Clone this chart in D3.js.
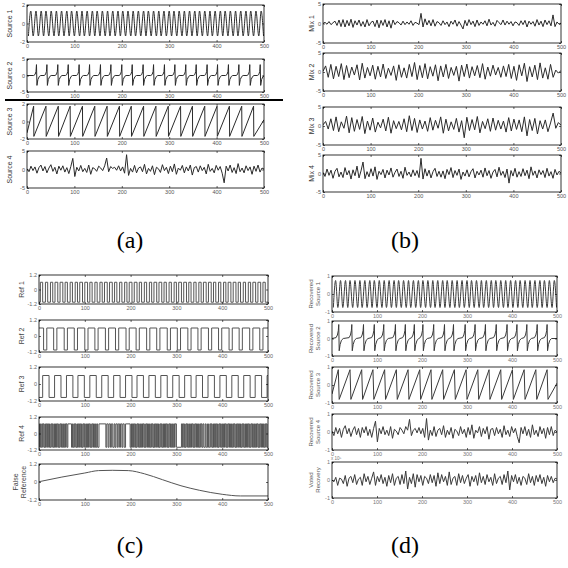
<!DOCTYPE html>
<html>
<head>
<meta charset="utf-8">
<script src="https://cdn.jsdelivr.net/npm/d3@7"></script>
<style>
body { margin: 0; background: #fff; }
svg { display: block; }
</style>
</head>
<body>
<svg id="chart" width="568" height="568"></svg>
<script>
const xTicks = [0, 100, 200, 300, 400, 500]
const N = 500

// (a) sources
const source1Crests = [8,19,30,40,51,62,73,84,94,105,116,127,138,148,159,170,181,192,202,213,224,235,246,256,267,278,289,300,310,321,332,343,354,364,375,386,397,408,418,429,440,451,462,472,483,494]
const source1Troughs = [3,13,24,35,46,57,67,78,89,100,111,121,132,143,154,165,175,186,197,208,219,229,240,251,262,273,283,294,305,316,327,337,348,359,370,381,391,402,413,424,435,445,456,467,478,489,499]
const source2Spikes = [20,42,65,87,110,132,155,177,200,222,245,267,290,312,335,357,380,402,425,447,470,492]
const spikeShape = [[-6,0],[-3,0.3],[-1,1.2],[0,3.3],[1,-3.0],[3,-1.2],[6,-0.3],[9,0]]
const source3Drops = [14,40,66,91,117,143,169,195,220,246,272,298,324,349,375,401,427,453,478]
const source4 = [
  0.2,-0.6,0.9,-0.3,0.7,-1.0,0.5,1.2,-0.4,0.8,
  -0.9,0.4,1.3,-0.5,0.6,-1.2,0.9,-0.2,1.0,-0.7,
  0.5,-1.1,0.8,3.0,-1.9,0.6,-0.4,1.1,-0.6,0.3,
  -0.8,1.2,-1.3,0.5,0.2,-0.5,0.9,0.4,-0.3,1.0,
  3.1,-0.6,0.8,0.3,0.6,-0.2,1.0,-0.4,0.7,-1.0,
  4.0,-1.6,0.3,-0.7,1.1,-0.9,0.4,0.7,-0.6,1.4,
  -1.2,0.3,-0.5,1.0,-1.4,0.6,0.2,-0.8,1.3,-0.3,
  0.6,-1.1,0.9,-0.6,1.5,-1.3,0.4,-0.2,1.1,-0.9,
  0.7,-0.4,1.2,-1.5,0.5,0.8,-0.7,1.0,-0.3,0.6,
  -1.2,1.4,-0.5,0.3,-0.9,1.1,-0.2,0.8,-1.0,-3.6,
  0.9,-0.4,1.2,-0.8,0.5,-1.1,1.6,-0.6,0.4,-0.9,
  1.0,-0.3,0.7,-1.3,0.9,-0.5,1.2,-0.7,0.4,0.1]

// (b) mixtures
const mix1 = [
  0.0,0.3,-0.2,0.5,-0.3,0.2,0.6,-0.5,0.9,-0.8,
  1.0,-0.9,0.8,-0.6,1.1,-1.0,0.7,-0.4,0.9,-0.7,
  0.5,-0.9,1.0,-0.6,0.3,0.6,-0.8,0.9,-1.1,0.8,
  -0.5,1.0,-0.9,0.7,-1.2,0.9,-0.3,0.5,0.2,-0.4,
  0.6,-0.3,0.4,-0.2,0.7,-0.5,0.3,0.1,-0.3,2.6,
  -0.9,1.2,-0.4,0.8,-0.6,1.0,-0.7,0.5,0.2,-0.5,
  0.7,-0.3,0.4,-0.8,0.6,-0.2,0.9,-0.7,0.5,-0.4,
  -1.4,0.8,-0.6,1.0,-0.3,0.6,-0.8,0.9,-0.5,0.4,
  -0.2,0.7,-0.6,1.1,-0.4,0.3,-0.7,0.8,0.2,-0.3,
  0.9,-0.4,0.6,-0.2,0.5,-0.6,0.4,0.2,-0.5,0.7,
  -0.3,0.8,-0.9,0.6,-0.2,0.5,-0.7,1.0,-0.4,0.6,
  -0.8,0.9,-0.3,0.7,-0.6,2.2,-0.8,0.4,-0.2,0.1]
const mix2 = [
  0.2,1.6,-1.4,2.0,-1.8,1.5,-1.2,2.2,-2.0,1.7,
  -1.5,1.3,-0.8,1.9,-2.1,2.3,-1.6,1.2,-1.0,1.8,
  -1.9,1.5,-1.3,2.1,-1.7,1.0,-0.9,1.6,-2.2,1.9,
  -1.4,1.1,-1.6,2.0,-1.2,2.5,-2.0,1.7,-1.5,2.2,
  -1.8,1.4,-1.1,1.9,-2.3,1.6,-1.3,2.0,-1.7,1.2,
  -0.9,1.5,-2.4,1.8,-1.2,2.1,-1.6,1.4,-1.0,1.7,
  -1.5,2.2,-1.9,1.3,-1.1,1.8,-0.8,1.2,-1.4,1.6,
  -1.2,2.0,-1.7,1.5,-2.2,1.9,-1.0,2.3,-2.5,1.4,
  -1.3,1.8,-2.0,2.4,-1.6,1.1,-1.9,2.0,-1.4,0.5,-0.3,0.4]
const mix3 = [
  0.3,1.2,-0.8,1.9,-1.2,2.4,-1.5,1.1,-0.6,2.6,
  -1.8,2.2,-1.4,1.7,-0.9,2.5,-2.0,1.3,-1.1,2.1,
  -1.6,1.0,-0.5,1.8,-1.3,2.3,-1.9,1.4,-0.7,1.2,
  -1.0,1.9,-1.5,2.7,-1.2,2.0,-1.7,1.6,-0.8,1.3,
  -1.4,2.2,-1.1,1.5,-0.6,2.4,-1.9,1.8,-1.3,1.1,
  -0.9,2.0,-1.6,1.4,-3.1,2.3,-1.2,1.7,-1.0,2.5,
  -1.8,1.2,-0.7,1.9,-1.4,2.1,-1.1,1.5,-0.8,1.3,
  -1.6,2.2,-1.3,1.8,-0.9,1.6,-1.5,2.4,-2.6,1.7,
  -1.2,2.0,-2.1,1.4,-0.8,1.6,-1.5,0.8,3.4,-0.6,0.9,0.2]
const mix4 = [
  0.3,-0.8,1.2,-0.5,0.9,-1.3,0.6,1.4,-0.9,0.4,
  -1.1,1.6,-0.4,0.8,-1.5,1.0,-0.6,2.0,-1.2,0.7,
  3.1,-1.4,0.5,-0.9,1.3,-0.7,1.8,-1.6,0.6,-0.3,
  1.1,-1.2,0.9,-0.4,1.5,-1.0,0.3,1.2,-0.8,0.6,
  -1.3,1.7,-0.5,0.4,-0.9,1.0,-0.6,0.8,-1.1,4.1,
  -1.5,1.3,-0.7,0.9,-1.2,0.5,1.4,-0.8,0.6,-1.0,
  0.7,-1.4,1.1,-0.3,1.6,-1.1,0.8,-0.5,1.2,-1.6,
  0.4,-0.7,1.0,-0.9,0.5,1.3,-1.2,0.6,-0.4,0.9,
  -1.0,1.5,-0.6,0.8,-1.3,0.4,1.1,-0.9,1.7,-0.5,
  0.6,-1.1,1.2,-2.6,0.8,-0.7,1.4,-1.0,0.5,-0.8,
  1.3,-0.6,0.9,-1.4,1.8,-0.5,0.7,-1.2,1.0,-0.3,
  0.8,-1.1,1.4,-0.7,0.5,-1.3,1.1,-0.4,0.6,0.1]

// (c) references, switching times
const ref1Edges = [3,8,14,19,25,30,35,41,46,52,57,62,68,73,79,84,89,95,100,106,111,116,122,127,133,138,143,149,154,160,165,170,176,181,187,192,197,203,208,214,219,224,230,235,241,246,251,257,262,268,273,278,284,289,295,300,305,311,316,322,327,332,338,343,349,354,359,365,370,376,381,386,392,397,403,408,413,419,424,430,435,440,446,451,457,462,467,473,478,484,489,494]
const ref2Edges = [10,17,32,39,55,62,77,84,100,107,122,129,145,152,167,174,190,197,212,219,235,242,257,264,280,287,302,309,325,332,347,354,370,377,392,399,415,422,437,444,460,467,482,489]
const ref3Edges = [8,22,34,48,60,74,85,99,111,125,137,151,163,177,189,203,214,228,240,254,266,280,292,306,318,332,343,357,369,383,395,409,421,435,447,461,472,486,498]
const ref4Edges = [1,3,4,6,8,9,11,13,14,16,18,19,21,23,24,26,28,29,31,33,34,36,38,39,41,43,44,46,48,49,51,53,54,56,58,59,61,63,
  71,73,74,76,78,79,81,83,84,86,88,89,91,93,94,96,98,99,101,103,104,106,108,109,111,113,114,116,118,119,121,123,124,126,128,131,
  146,148,151,153,156,158,161,164,166,168,171,173,176,178,181,183,186,189,
  199,201,202,204,206,207,209,211,212,214,216,217,219,221,222,224,226,227,229,231,232,234,236,237,239,241,242,244,246,247,249,251,252,254,256,257,259,261,262,264,266,267,269,271,272,274,276,277,279,281,282,284,286,287,289,291,292,294,296,297,300,
  311,313,314,316,318,319,321,323,324,326,328,329,331,333,334,336,338,339,341,343,344,346,348,349,351,353,354,356,358,360,363,365,368,370,
  373,375,376,378,380,381,383,385,386,388,390,391,393,395,396,398,400,401,403,405,406,408,410,411,413,415,416,418,420,421,423,425,426,428,430,431,433,435,436,438,440,441,443,445,446,448,450,451,453,455,456,458,460,461,463,465,466,468,470,471,473,475,476,478,480,481,483,485,486,488,490,491,493,495,496,498]
const falseRef = [[0,0.02],[50,0.33],[100,0.6],[130,0.76],[160,0.78],[195,0.76],[230,0.55],[270,0.15],[310,-0.25],[350,-0.55],[400,-0.82],[440,-0.93],[500,-0.93]]

// (d) recovered
const rec2Spikes = [15,44,70,94,115,141,163,183,202,226,250,270,296,318,341,365,389,411,433,456,478]
const recSpikeShape = [[-6,0.05],[-3,0.2],[-1,0.45],[0,0.8],[1,-0.7],[3,-0.35],[6,-0.1],[10,0]]
const rec4 = [
  0.05,-0.2,0.25,-0.1,0.2,-0.3,0.15,0.35,-0.1,0.2,
  -0.25,0.1,0.3,-0.15,0.2,-0.3,0.25,-0.05,0.3,-0.2,
  0.15,-0.3,0.2,0.6,-0.55,0.2,-0.1,0.3,-0.15,0.1,
  -0.2,0.3,-0.35,0.15,0.05,-0.15,0.25,0.1,-0.1,0.3,
  0.1,0.7,-0.2,0.1,0.2,-0.05,0.25,-0.1,0.2,-0.3,
  0.75,-0.45,0.1,-0.2,0.3,-0.25,0.1,0.2,-0.15,0.35,
  -0.3,0.1,-0.15,0.25,-0.35,0.15,0.05,-0.2,0.3,-0.1,
  0.15,-0.3,0.25,-0.15,0.4,-0.35,0.1,-0.05,0.3,-0.25,
  0.2,-0.1,0.3,-0.4,0.15,0.2,-0.2,0.25,-0.1,0.15,
  -0.3,0.35,-0.15,0.1,-0.25,0.3,-0.05,0.2,-0.25,-0.6,
  0.25,-0.1,0.3,-0.2,0.15,-0.3,0.4,-0.15,0.1,-0.25,
  0.3,-0.1,0.2,-0.35,0.25,-0.15,0.3,-0.2,0.1,0.0]
const voted = [
  0.0,-0.1,0.15,-0.3,0.1,0.05,-0.2,0.25,-0.35,0.1,
  0.2,-0.15,0.3,-0.25,0.05,0.15,-0.3,0.35,-0.1,0.2,
  -0.25,0.1,0.45,-0.3,0.2,-0.1,0.3,-0.2,0.15,-0.35,
  0.25,-0.15,0.35,-0.3,0.1,0.2,-0.25,0.3,-0.2,0.5,
  -0.5,0.15,-0.2,0.35,-0.4,0.3,-0.1,0.25,-0.3,0.2,
  0.1,-0.2,0.3,-0.15,0.25,-0.35,0.4,-0.2,0.3,-0.1,
  0.2,-0.3,0.45,-0.25,0.1,0.2,-0.3,0.35,-0.15,0.25,
  -0.2,0.1,0.3,-0.35,0.2,-0.1,0.25,-0.3,0.4,-0.15,
  0.2,-0.25,0.3,-0.1,0.15,-0.3,0.35,-0.2,0.1,0.2,
  -0.25,0.3,-0.15,0.5,-0.55,0.25,-0.1,0.3,-0.2,0.15,
  -0.3,0.2,0.1,-0.25,0.35,-0.15,0.2,-0.3,0.25,-0.1,
  0.3,-0.2,0.15,-0.35,0.25,-0.1,0.2,-0.15,0.1,0.05]

// ---- turn the lists into line vertices ----
const fromValues = vals => vals.map((v, i) => [i * N / (vals.length - 1), v])

const fromTurns = (crests, troughs, amp) =>
    crests.map(x => [x, amp]).concat(troughs.map(x => [x, -amp])).sort((a, b) => a[0] - b[0])

const fromSpikes = (spikes, shape) => {
    let pts = [[0, 0]]
    spikes.forEach(p => shape.forEach(([dx, v]) => pts.push([p + dx, v])))
    pts.push([N, 0])
    return pts
}

const fromSaw = (drops, hi, lo, fall, start, end) => {
    let pts = [[0, start]]
    drops.forEach(d => { pts.push([d, hi]); pts.push([d + fall, lo]) })
    pts.push([N, end])
    return pts
}

const fromEdges = (edges, startHigh, hi, lo) => {
    let high = startHigh
    let pts = [[0, high ? hi : lo]]
    edges.forEach(e => { high = !high; pts.push([e, high ? hi : lo]) })
    pts.push([N, high ? hi : lo])
    return pts
}

const svg = d3.select('#chart')
const sans = 'Arial, "Liberation Sans", sans-serif'
let clipCount = 0

const drawPlot = (box, plot) => {
    const x = d3.scaleLinear().domain([0, N]).range([box.x0, box.x1])
    const y = d3.scaleLinear().domain(plot.dom).range([box.y1, box.y0])
    const g = svg.append('g')
    const id = 'clip' + (clipCount++)

    g.append('clipPath').attr('id', id)
        .append('rect')
            .attr('x', box.x0).attr('y', box.y0)
            .attr('width', box.x1 - box.x0).attr('height', box.y1 - box.y0)

    g.append('path')
        .datum(plot.pts)
        .attr('clip-path', `url(#${id})`)
        .attr('fill', 'none')
        .attr('stroke', box.color)
        .attr('stroke-width', box.lineWidth)
        .attr('d', d3.line().x(d => x(d[0])).y(d => y(d[1])).curve(plot.curve || d3.curveLinear))

    const styleAxis = (sel, showText) => {
        sel.select('.domain').remove()
        sel.attr('font-family', sans)
        sel.selectAll('line').attr('stroke', '#000').attr('stroke-width', 0.6)
        sel.selectAll('text')
            .attr('font-size', 5.5)
            .attr('fill', box.tickColor)
            .style('display', showText ? null : 'none')
    }

    g.append('g').attr('transform', `translate(0,${box.y1})`)
        .call(d3.axisBottom(x).tickValues(xTicks).tickSize(-2).tickPadding(2))
        .call(s => styleAxis(s, true))
    g.append('g').attr('transform', `translate(0,${box.y0})`)
        .call(d3.axisTop(x).tickValues(xTicks).tickSize(-2))
        .call(s => styleAxis(s, false))
    g.append('g').attr('transform', `translate(${box.x0},0)`)
        .call(d3.axisLeft(y).tickValues(plot.ticks).tickSize(-2).tickPadding(2).tickFormat(d => String(d)))
        .call(s => styleAxis(s, true))
    g.append('g').attr('transform', `translate(${box.x1},0)`)
        .call(d3.axisRight(y).tickValues(plot.ticks).tickSize(-2))
        .call(s => styleAxis(s, false))

    g.append('rect')
        .attr('x', box.x0).attr('y', box.y0)
        .attr('width', box.x1 - box.x0).attr('height', box.y1 - box.y0)
        .attr('fill', 'none').attr('stroke', '#000').attr('stroke-width', 0.8)

    const cy = (box.y0 + box.y1) / 2
    const lx = plot.label.length > 1 ? box.labelX2 : box.labelX1
    plot.label.forEach((t, i) => {
        g.append('text')
            .attr('transform', `translate(${lx[i]},${cy}) rotate(-90)`)
            .attr('text-anchor', 'middle')
            .attr('dy', '0.35em')
            .attr('font-family', sans)
            .attr('font-size', box.labelSize)
            .attr('fill', box.labelColor)
            .text(t)
    })
}

const panels = [
    {
        x0: 27, x1: 264, color: '#2a2a2a', lineWidth: 1, tickColor: '#555', labelSize: 7, labelColor: '#333', labelX1: [10],
        rows: [[5, 42], [59, 92], [104, 139], [151, 188]],
        plots: [
            { label: ['Source 1'], dom: [-2, 2], ticks: [-2, 0, 2], pts: fromTurns(source1Crests, source1Troughs, 1.35), curve: d3.curveMonotoneX },
            { label: ['Source 2'], dom: [-5, 5], ticks: [-5, 0, 5], pts: fromSpikes(source2Spikes, spikeShape) },
            { label: ['Source 3'], dom: [-2, 2], ticks: [-2, 0, 2], pts: fromSaw(source3Drops, 1.75, -1.7, 0.5, -1.3, 0.2) },
            { label: ['Source 4'], dom: [-5, 5], ticks: [-5, 0, 5], pts: fromValues(source4) }
        ]
    },
    {
        x0: 323, x1: 561, color: '#2a2a2a', lineWidth: 1, tickColor: '#555', labelSize: 7, labelColor: '#333', labelX1: [312],
        rows: [[4, 43], [53, 91], [107, 145], [155, 192]],
        plots: [
            { label: ['Mix 1'], dom: [-5, 5], ticks: [-5, 0, 5], pts: fromValues(mix1) },
            { label: ['Mix 2'], dom: [-5, 5], ticks: [-5, 0, 5], pts: fromValues(mix2) },
            { label: ['Mix 3'], dom: [-5, 5], ticks: [-5, 0, 5], pts: fromValues(mix3) },
            { label: ['Mix 4'], dom: [-5, 5], ticks: [-5, 0, 5], pts: fromValues(mix4) }
        ]
    },
    {
        x0: 39, x1: 268, color: '#555', lineWidth: 1, tickColor: '#666', labelSize: 7, labelColor: '#444', labelX1: [22], labelX2: [16, 24],
        rows: [[275, 304], [320, 352], [367, 401], [417, 450], [464, 500]],
        plots: [
            { label: ['Ref 1'], dom: [-1.2, 1.2], ticks: [-1.2, 0, 1.2], pts: fromEdges(ref1Edges, false, 0.6, -1.05), curve: d3.curveStepAfter },
            { label: ['Ref 2'], dom: [-1.2, 1.2], ticks: [-1.2, 0, 1.2], pts: fromEdges(ref2Edges, true, 0.6, -1.05), curve: d3.curveStepAfter },
            { label: ['Ref 3'], dom: [-1.2, 1.2], ticks: [-1.2, 0, 1.2], pts: fromEdges(ref3Edges, false, 0.6, -0.95), curve: d3.curveStepAfter },
            { label: ['Ref 4'], dom: [-1.2, 1.2], ticks: [-1.2, 0, 1.2], pts: fromEdges(ref4Edges, true, 0.7, -1.0), curve: d3.curveStepAfter },
            { label: ['False', 'Reference'], dom: [-1.2, 1.2], ticks: [-1.2, 0, 1.2], pts: falseRef, curve: d3.curveMonotoneX }
        ]
    },
    {
        x0: 332, x1: 557, color: '#3a3a3a', lineWidth: 1, tickColor: '#777', labelSize: 6, labelColor: '#555', labelX1: [314], labelX2: [311, 318],
        rows: [[276, 312], [321, 356], [367, 403], [414, 450], [462, 498]],
        plots: [
            { label: ['Recovered', 'Source 1'], dom: [-1, 1], ticks: [-1, 0, 1], pts: fromTurns(source1Crests, source1Troughs, 0.75), curve: d3.curveMonotoneX },
            { label: ['Recovered', 'Source 2'], dom: [-1, 1], ticks: [-1, 0, 1], pts: fromSpikes(rec2Spikes, recSpikeShape) },
            { label: ['Recovered', 'Source 3'], dom: [-1, 1], ticks: [-1, 0, 1], pts: fromSaw(source3Drops, 0.85, -0.8, 2, -0.5, 0.1) },
            { label: ['Recovered', 'Source 4'], dom: [-1, 1], ticks: [-1, 0, 1], pts: fromValues(rec4) },
            { label: ['Voted', 'Recovery'], dom: [-1, 1], ticks: [-1, 0, 1], pts: fromValues(voted) }
        ]
    }
]

panels.forEach(p => {
    p.plots.forEach((plot, i) => {
        drawPlot(Object.assign({}, p, { y0: p.rows[i][0], y1: p.rows[i][1] }), plot)
    })
})

// exponent note above the voted recovery axis
svg.append('text')
    .attr('x', 331).attr('y', 460)
    .attr('font-family', sans)
    .attr('font-size', 4.5).attr('fill', '#777')
    .text('x 10⁵')

// divider line under Source 2
svg.append('line')
    .attr('x1', 5).attr('x2', 283).attr('y1', 100).attr('y2', 100)
    .attr('stroke', '#000').attr('stroke-width', 2)

const captions = [['(a)', 130, 248], ['(b)', 405, 248], ['(c)', 130, 553], ['(d)', 405, 553]]
captions.forEach(([t, cx, cy]) => {
    svg.append('text')
        .attr('x', cx).attr('y', cy)
        .attr('text-anchor', 'middle')
        .attr('font-family', '"Liberation Serif", "Times New Roman", serif')
        .attr('font-size', 24)
        .attr('fill', '#000')
        .text(t)
})
</script>
</body>
</html>
